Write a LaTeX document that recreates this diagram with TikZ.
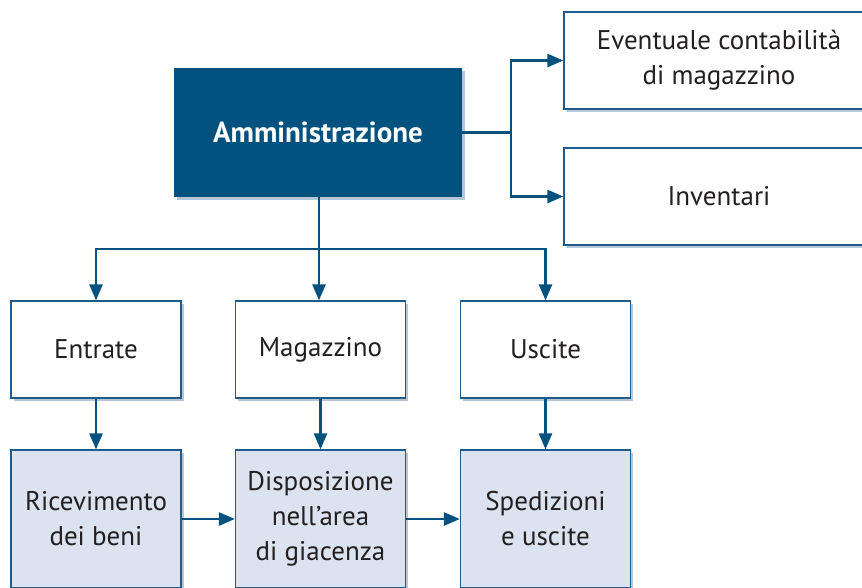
\documentclass[tikz,border=0pt]{standalone}
\usepackage{fontspec}
\setmainfont{PT Sans}
\usetikzlibrary{arrows.meta,shadows}
\definecolor{dblue}{HTML}{03517F}
\definecolor{lblue}{HTML}{DAE3EF}
\definecolor{bord}{HTML}{1F5C8C}
\definecolor{shad}{HTML}{B5C6D6}
\definecolor{txt}{HTML}{231F20}
\tikzset{
  box/.style={draw=bord, line width=1.3pt, fill=white, text=txt, align=center,
    font=\fontsize{27}{35}\selectfont, inner sep=0pt,
    drop shadow={shadow xshift=2.5pt, shadow yshift=-2.5pt, fill=shad, opacity=1}},
  topbox/.style={box, minimum width=170pt, minimum height=97pt},
  lowbox/.style={box, fill=lblue, minimum width=170pt, minimum height=138pt},
  sidebox/.style={box, minimum width=310pt, minimum height=97pt},
  adminbox/.style={fill=dblue, text=white, font=\fontsize{29}{34}\selectfont\bfseries,
    minimum width=288pt, minimum height=129pt, inner sep=0pt,
    drop shadow={shadow xshift=2.5pt, shadow yshift=-2.5pt, fill=shad, opacity=1}},
  conn/.style={draw=dblue, line width=2.6pt},
  arr/.style={conn, -{Triangle[length=16pt,width=13pt]}}
}
\begin{document}
\begin{tikzpicture}[x=1pt,y=-1pt]
\useasboundingbox (0,0) rectangle (862,587);
\clip (0,0) rectangle (862,587);
\node[adminbox] (adm) at (318,132.5) {Amministrazione};
\node[sidebox] (ev) at (719,60.5) {Eventuale contabilità\\di magazzino};
\node[sidebox] (inv) at (719,196.5) {Inventari};
\node[topbox] (ent) at (96,349.5) {Entrate};
\node[topbox] (mag) at (320.5,349.5) {Magazzino};
\node[topbox] (usc) at (545.5,349.5) {Uscite};
\node[lowbox] (ric) at (96,519) {Ricevimento\\dei beni};
\node[lowbox] (dis) at (320.5,519) {Disposizione\\nell’area\\di giacenza};
\node[lowbox] (spe) at (545.5,519) {Spedizioni\\e uscite};
\coordinate (jb) at (319,249);
\coordinate (jr) at (511,132.5);
\draw[conn] (adm.south -| jb) -- (jb);
\draw[arr] (jb) -| (ent.north);
\draw[arr] (jb) -- (jb |- mag.north);
\draw[arr] (jb) -| (usc.north);
\draw[conn] (adm.east) -- (jr);
\draw[arr] (jr) |- (ev.west);
\draw[arr] (jr) |- (inv.west);
\draw[arr] (ent.south) -- (ric.north);
\draw[arr] (mag.south) -- (dis.north);
\draw[arr] (usc.south) -- (spe.north);
\draw[arr] (ric.east) -- (dis.west);
\draw[arr] (dis.east) -- (spe.west);
\end{tikzpicture}
\end{document}
